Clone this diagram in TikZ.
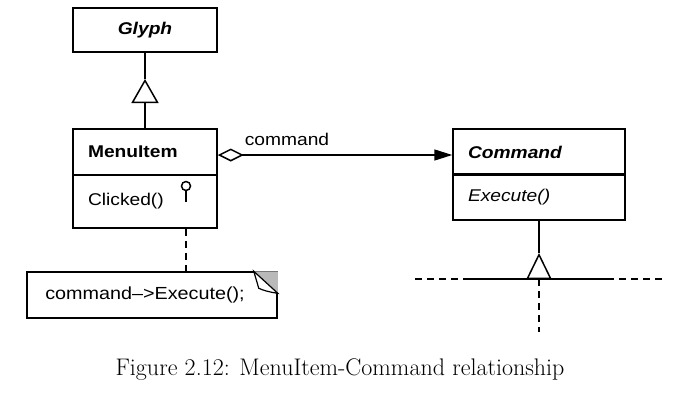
\documentclass[tikz,border=0pt]{standalone}
\usepackage{fontspec}
\newfontfamily\umlfont{Liberation Sans}[FakeStretch=1.13]
\usepackage{tikz}
\usetikzlibrary{arrows.meta, positioning, calc}

\begin{document}
\begin{tikzpicture}[
  x=1pt, y=-1pt,
  cls/.style={draw, line width=1.5pt, minimum height=46pt, inner xsep=15pt, inner ysep=0pt, align=left, font=\umlfont\fontsize{17}{20}\selectfont},
  small/.style={cls, text width=114pt},
  wide/.style={cls, text width=142pt},
  lbl/.style={font=\umlfont\fontsize{17}{20}\selectfont, inner sep=0pt},
  conn/.style={line width=1.5pt},
  dashln/.style={line width=1.5pt, dash pattern=on 7pt off 5pt},
  >=Latex
]
  \useasboundingbox (0,0) rectangle (678,405);

  % Glyph and MenuItem
  \node[draw, line width=1.5pt, minimum width=144pt, minimum height=44pt, font=\umlfont\fontsize{17}{20}\selectfont\bfseries\itshape]
                                   at (145,30)    (glyph) {Glyph};
  \node[small, font=\umlfont\fontsize{17}{20}\selectfont\bfseries]
                                   at (145,152)   (mname) {MenuItem};
  \node[small, minimum height=53pt] at (145,201.5) (mmeth) {Clicked()};
  \node[draw, circle, line width=1.5pt, minimum size=9pt, inner sep=0pt]
                                   at (186,186)   (pin)   {};

  % Command
  \node[wide, font=\umlfont\fontsize{17}{20}\selectfont\bfseries\itshape]
                                   at (539,152)   (cname) {Command};
  \node[wide, font=\umlfont\fontsize{17}{20}\selectfont\itshape]
                                   at (539,197)   (cmeth) {Execute()};

  % Note
  \node[draw, line width=1.5pt, minimum width=250pt, minimum height=46pt, inner sep=0pt, font=\umlfont\fontsize{17.5}{20}\selectfont]
                                   at (152,295)   (note)  {\hspace*{-14pt}command–>Execute();};
  \fill[gray!55] (note.north east) -- ++(-24,0) -- ($(note.north east)+(0,22)$) -- cycle;
  \draw[line width=1.2pt, fill=white] ($(note.north east)+(-24,0)$) -- ++(5,17) .. controls ++(4,2) and ++(-8,-1) .. ($(note.north east)+(0,22)$) -- cycle;

  \node[lbl]                       at (287,139)   (cmdlbl) {command};
  \node[font=\fontsize{24}{28}\selectfont, inner sep=0pt]
                                   at (340,370)   (caption) {Figure 2.12: MenuItem-Command relationship};

  % Connectors
  \coordinate (gtip)  at (145,79);
  \coordinate (ctip)  at (539,253);
  \coordinate (hub)   at (539,279);
  \coordinate (hl1)   at (415,279);
  \coordinate (hs1)   at (468,279);
  \coordinate (hs2)   at (607,279);
  \coordinate (hl2)   at (662,279);
  \coordinate (vend)  at (539,332);

  \draw[conn] (glyph) -- (gtip);
  \draw[conn, -{Triangle[open, length=24pt, width=27pt]}] (mname) -- (gtip);
  \draw[conn, {Diamond[open, length=26pt, width=13pt]}-{Triangle[length=18pt, width=11pt]}]
    ([yshift=-3pt]mname.east) -- ([yshift=-3pt]cname.west);
  \draw[conn] (pin.south) -- ++(0,11);
  \draw[dashln] (mmeth.south -| pin) -- (note.north -| pin);

  \draw[conn] (cmeth) -- (ctip);
  \draw[conn, -{Triangle[open, length=26pt, width=25pt]}] (hub) -- (ctip);
  \draw[dashln] (hl1) -- (hs1);
  \draw[conn] (hs1) -- (hs2);
  \draw[dashln] (hs2) -- (hl2);
  \draw[dashln] (hub) -- (vend);
\end{tikzpicture}
\end{document}
